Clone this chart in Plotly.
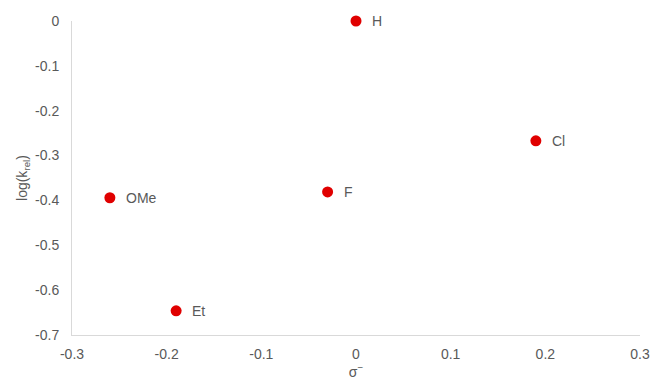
import plotly.graph_objects as go

substituents = ["H", "Cl", "F", "OMe", "Et"]
sigma_minus = [0.0, 0.19, -0.03, -0.26, -0.19]
log_krel = [0.0, -0.267, -0.381, -0.394, -0.646]

x_ticks = [-0.3, -0.2, -0.1, 0, 0.1, 0.2, 0.3]
x_tick_text = ["-0.3", "-0.2", "-0.1", "0", "0.1", "0.2", "0.3"]
y_ticks = [0, -0.1, -0.2, -0.3, -0.4, -0.5, -0.6, -0.7]
y_tick_text = ["0", "-0.1", "-0.2", "-0.3", "-0.4", "-0.5", "-0.6", "-0.7"]

font_color = "#595959"
axis_color = "#D9D9D9"

fig = go.Figure()
fig.add_trace(go.Scatter(
    x=sigma_minus, y=log_krel, mode="markers",
    marker=dict(color="#E00000", size=11),
    cliponaxis=False, hoverinfo="skip", showlegend=False,
))

for s, x, y in zip(substituents, sigma_minus, log_krel):
    fig.add_annotation(x=x, y=y, text=s, showarrow=False, xanchor="left",
                       xshift=14, font=dict(size=14, color=font_color))

fig.update_layout(
    width=655, height=383,
    margin=dict(l=72, r=15, t=21, b=48),
    paper_bgcolor="white", plot_bgcolor="white",
    font=dict(family="Liberation Sans, Arial, sans-serif", size=14, color=font_color),
)
fig.update_xaxes(
    range=[-0.3, 0.3], tickvals=x_ticks, ticktext=x_tick_text, automargin=False,
    showgrid=False, zeroline=False, showline=True, linecolor=axis_color, linewidth=1,
    ticks="outside", ticklen=6, tickcolor="rgba(0,0,0,0)",
    title=dict(text="σ<sup>−</sup>", standoff=4, font=dict(size=14, color=font_color)),
)
fig.update_yaxes(
    range=[-0.7, 0], tickvals=y_ticks, ticktext=y_tick_text, automargin=False,
    showgrid=False, zeroline=False, showline=True, linecolor=axis_color, linewidth=1,
    ticks="outside", ticklen=9, tickcolor="rgba(0,0,0,0)",
    title=dict(text="log(k<sub>rel</sub>)", standoff=4, font=dict(size=14, color=font_color)),
)

fig.write_html("out.html", config={"displayModeBar": False},
               post_script="document.body.style.margin='0';")
